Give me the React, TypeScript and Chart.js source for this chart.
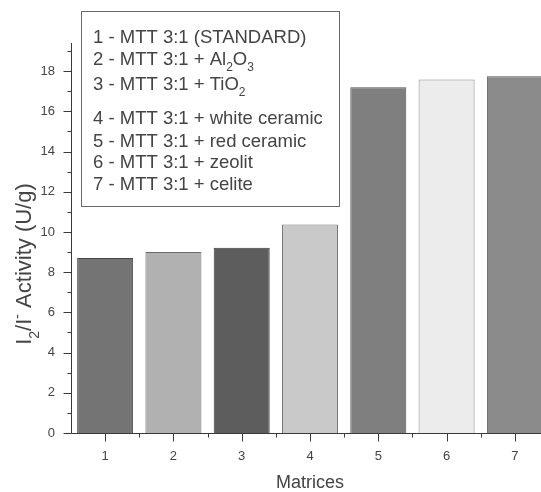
import { useEffect, useRef } from "react";
import { Chart, registerables } from "chart.js";

Chart.register(...registerables);

type Seg = { t: string; sub?: boolean; sup?: boolean };

const categories = ["1", "2", "3", "4", "5", "6", "7"];
const activity = [8.71, 9.0, 9.22, 10.37, 17.2, 17.58, 17.75];
const barColors = ["#747474", "#b1b1b1", "#5d5d5d", "#c9c9c9", "#7f7f7f", "#ececec", "#8b8b8b"];
const barBorders = ["#484848", "#6a6a6a", "#3c3c3c", "#7a7a7a", "#525252", "#8a8a8a", "#585858"];
const yTickValues = [0, 2, 4, 6, 8, 10, 12, 14, 16, 18];
const yMinorValues = [1, 3, 5, 7, 9, 11, 13, 15, 17, 19];
const yMax = 19.4;
const xTitle = "Matrices";
const yTitle: Seg[] = [
  { t: "I" },
  { t: "2", sub: true },
  { t: "/I" },
  { t: "-", sup: true },
  { t: " Activity (U/g)" },
];
const legendLines: Seg[][] = [
  [{ t: "1 - MTT 3:1 (STANDARD)" }],
  [{ t: "2 - MTT 3:1 + Al" }, { t: "2", sub: true }, { t: "O" }, { t: "3", sub: true }],
  [{ t: "3 - MTT 3:1 + TiO" }, { t: "2", sub: true }],
  [{ t: "4 - MTT 3:1 + white ceramic" }],
  [{ t: "5 - MTT 3:1 + red ceramic" }],
  [{ t: "6 - MTT 3:1 + zeolit" }],
  [{ t: "7 - MTT 3:1 + celite" }],
];
const legendGaps = [0, 21.6, 25, 34.4, 22.3, 21.3, 22];

const FONT = "'Liberation Sans', Arial, sans-serif";
const TEXT = "#444444";
const AXIS = "#3a3a3a";

function drawSegs(ctx: CanvasRenderingContext2D, segs: Seg[], x: number, baseline: number, size: number, subSize: number) {
  let cx = x;
  for (const s of segs) {
    const fs = s.sub || s.sup ? subSize : size;
    ctx.font = `${fs}px ${FONT}`;
    let y = baseline;
    if (s.sub) y = baseline + size * 0.36;
    if (s.sup) y = baseline - size * 0.42;
    ctx.fillText(s.t, cx, y);
    cx += ctx.measureText(s.t).width;
  }
  return cx - x;
}

function measureSegs(ctx: CanvasRenderingContext2D, segs: Seg[], size: number, subSize: number) {
  let w = 0;
  for (const s of segs) {
    const fs = s.sub || s.sup ? subSize : size;
    ctx.font = `${fs}px ${FONT}`;
    w += ctx.measureText(s.t).width;
  }
  return w;
}

const decorPlugin = {
  id: "decor",
  afterDraw(chart: any) {
    const ctx: CanvasRenderingContext2D = chart.ctx;
    const { left, right, top, bottom } = chart.chartArea;
    const xs = chart.scales.x;
    const ys = chart.scales.y;
    ctx.save();
    ctx.strokeStyle = AXIS;
    ctx.lineWidth = 1;
    const ax = Math.round(left) + 0.5;
    const ay = Math.round(bottom) + 0.5;
    ctx.beginPath();
    ctx.moveTo(ax, top);
    ctx.lineTo(ax, ay);
    ctx.lineTo(right, ay);
    for (const v of yTickValues) {
      const py = Math.round(ys.getPixelForValue(v)) + 0.5;
      ctx.moveTo(ax, py);
      ctx.lineTo(ax - 8, py);
    }
    for (const v of yMinorValues) {
      if (v > yMax) continue;
      const py = Math.round(ys.getPixelForValue(v)) + 0.5;
      ctx.moveTo(ax, py);
      ctx.lineTo(ax - 4, py);
    }
    const centers = categories.map((_, i) => xs.getPixelForValue(i));
    centers.forEach((c) => {
      const px = Math.round(c) + 0.5;
      ctx.moveTo(px, ay);
      ctx.lineTo(px, ay + 8);
    });
    for (let i = 0; i < centers.length - 1; i++) {
      const px = Math.round((centers[i] + centers[i + 1]) / 2) + 0.5;
      ctx.moveTo(px, ay);
      ctx.lineTo(px, ay + 4);
    }
    ctx.stroke();

    // y title
    ctx.fillStyle = TEXT;
    ctx.textBaseline = "alphabetic";
    ctx.textAlign = "left";
    const tSize = 22;
    const tw = measureSegs(ctx, yTitle, tSize, 14);
    ctx.save();
    ctx.translate(31, 264);
    ctx.rotate(-Math.PI / 2);
    drawSegs(ctx, yTitle, -tw / 2, 0, tSize, 14);
    ctx.restore();

    // legend box
    const bx = 81.5, by = 11.5, bw = 258, bh = 195;
    ctx.fillStyle = "#ffffff";
    ctx.fillRect(bx, by, bw, bh);
    ctx.strokeStyle = "#6a6a6a";
    ctx.strokeRect(bx, by, bw, bh);
    ctx.fillStyle = TEXT;
    let cy = 36.7;
    legendLines.forEach((line, i) => {
      cy += legendGaps[i];
      drawSegs(ctx, line, 93, cy + 6.5, 18.5, 12);
    });
    ctx.restore();
  },
};

export default function App() {
  const ref = useRef<HTMLCanvasElement | null>(null);
  useEffect(() => {
    if (!ref.current) return;
    const chart = new Chart(ref.current, {
      type: "bar",
      data: {
        labels: categories,
        datasets: [
          {
            data: activity,
            backgroundColor: barColors,
            borderColor: barBorders,
            borderWidth: 1,
            categoryPercentage: 1,
            barPercentage: 0.82,
          },
        ],
      },
      options: {
        animation: false,
        responsive: false,
        devicePixelRatio: 1,
        layout: { padding: { top: 43, left: 0, right: 0, bottom: 0 } },
        plugins: { legend: { display: false }, tooltip: { enabled: false } },
        scales: {
          x: {
            type: "category",
            offset: true,
            grid: { display: false, drawTicks: false },
            border: { display: false },
            ticks: { color: TEXT, font: { family: FONT, size: 13 }, padding: 16, maxRotation: 0 },
            title: {
              display: true,
              text: xTitle,
              color: TEXT,
              font: { family: FONT, size: 18, lineHeight: 1 },
              padding: { top: 0, bottom: 0 },
            },
            afterFit: (s: any) => {
              s.height = 59;
            },
          },
          y: {
            type: "linear",
            min: 0,
            max: yMax,
            grid: { display: false, drawTicks: false },
            border: { display: false },
            ticks: { color: TEXT, font: { family: FONT, size: 13 }, padding: 16 },
            afterBuildTicks: (s: any) => {
              s.ticks = yTickValues.map((v) => ({ value: v }));
            },
            afterFit: (s: any) => {
              s.width = 71;
            },
          },
        },
      },
      plugins: [decorPlugin],
    });
    return () => chart.destroy();
  }, []);
  return (
    <div style={{ position: "fixed", left: 0, top: 0, width: 541, height: 492, overflow: "hidden", background: "#fff" }}>
      <canvas ref={ref} width={549} height={492} style={{ width: 549, height: 492, display: "block" }} />
    </div>
  );
}
